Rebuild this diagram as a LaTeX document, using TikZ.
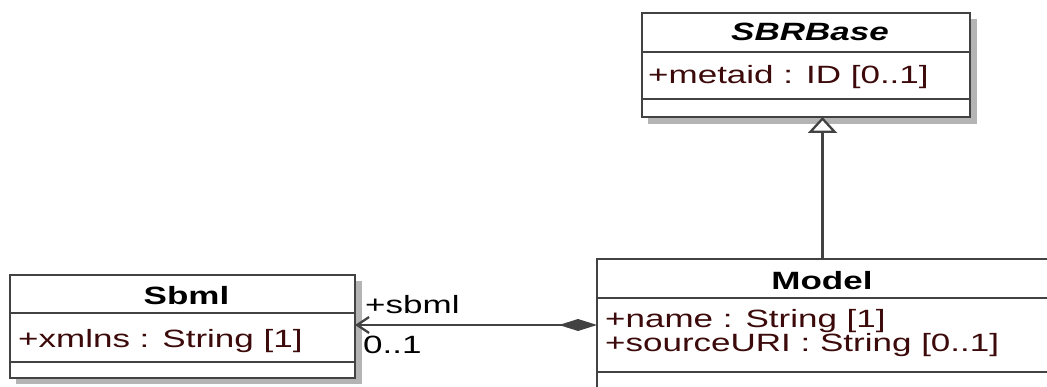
\documentclass[tikz,border=0pt]{standalone}
\usepackage{fontspec}
\setmainfont{Liberation Sans}[FakeStretch=1.4]
\usetikzlibrary{arrows.meta}
\definecolor{linec}{HTML}{424242}
\definecolor{shadowc}{HTML}{B4B4B4}
\definecolor{attrc}{HTML}{3C0A0A}
\begin{document}
\begin{tikzpicture}[x=1pt,y=-1pt,
 classbox/.style={draw=linec, line width=2.3pt, fill=white, inner sep=0pt, outer sep=0pt, rectangle},
 sep/.style={draw=linec, line width=2.3pt},
 title/.style={anchor=base, inner sep=0pt, font=\fontsize{25}{25}\selectfont\bfseries},
 attr/.style={anchor=base west, inner sep=0pt, text=attrc, font=\fontsize{25}{25}\selectfont},
 lbl/.style={anchor=base west, inner sep=0pt, text=black, font=\fontsize{25}{25}\selectfont},
 conn/.style={draw=linec, line width=2.3pt}]
\useasboundingbox (0,0) rectangle (1047,387);
\clip (0,0) rectangle (1047,387);
% shadows
\fill[shadowc] (648,19) rectangle (977,124);
\fill[shadowc] (16,281) rectangle (362,384);
% SBRBase
\node[classbox, minimum width=328pt, minimum height=104pt] (sbrbase) at (806,65) {};
\draw[sep] (642,52) -- (970,52);
\draw[sep] (642,99) -- (970,99);
\node[title] (sbrbasename) at (810,41) {\itshape SBRBase};
\node[attr] (sbrbaseattr) at (648,84) {+metaid : ID [0..1]};
% Sbml
\node[classbox, minimum width=345pt, minimum height=103pt] (sbml) at (182.5,326.5) {};
\draw[sep] (10,313) -- (355,313);
\draw[sep] (10,362) -- (355,362);
\node[title] (sbmlname) at (186.5,305) {Sbml};
\node[attr] (sbmlattr) at (18,348) {+xmlns : String [1]};
% Model
\node[classbox, minimum width=451pt, minimum height=146pt] (model) at (822.5,332) {};
\draw[sep] (597,298) -- (1048,298);
\draw[sep] (597,372) -- (1048,372);
\node[title] (modelname) at (822,290) {Model};
\node[attr] (modelattr1) at (605,327) {+name : String [1]};
\node[attr] (modelattr2) at (605,352) {+sourceURI : String [0..1]};
% association
\coordinate (assocy) at (0,325);
\draw[conn, {Straight Barb[length=12pt,width=16pt]}-{Diamond[length=38pt,width=12pt,fill=linec]}] (sbml.east |- assocy) -- (model.west |- assocy);
\node[lbl] (rolelbl) at (365,314) {+sbml};
\node[lbl] (multlbl) at (363,353) {0..1};
% generalization
\draw[conn, -{Triangle[open,length=16pt,width=29pt,fill=white]}] (model.north) -- (model.north |- sbrbase.south);
\end{tikzpicture}
\end{document}
